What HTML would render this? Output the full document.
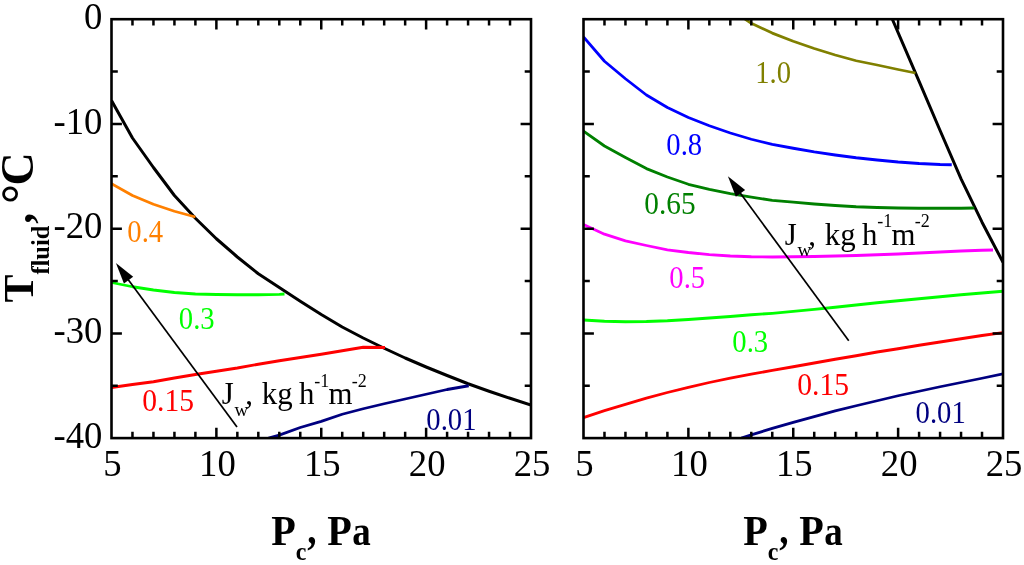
<!DOCTYPE html>
<html><head><meta charset="utf-8"><title>chart</title>
<style>html,body{margin:0;padding:0;background:#fff;}svg{display:block;}text{font-family:"Liberation Serif",serif;}svg{will-change:transform;}</style></head><body>
<svg width="1024" height="565" viewBox="0 0 1024 565">
<rect width="1024" height="565" fill="#fff"/>
<clipPath id="cl"><rect x="111.5" y="19.2" width="419.5" height="418.90000000000003"/></clipPath>
<clipPath id="cr"><rect x="583.5" y="19.2" width="419.5" height="418.90000000000003"/></clipPath>
<g clip-path="url(#cl)">
<polyline points="111.50,100.50 132.47,138.00 153.45,167.50 174.43,195.50 195.40,218.25 216.38,238.75 237.35,257.00 258.32,273.75 279.30,287.50 300.27,301.25 321.25,314.50 342.23,327.00 363.20,338.00 384.18,348.25 405.15,358.00 426.12,367.00 447.10,375.50 468.07,383.75 489.05,391.25 510.02,398.25 531.00,405.00" fill="none" stroke="#000" stroke-width="3.0" stroke-linejoin="round" stroke-linecap="butt"/>
<polyline points="111.50,183.75 132.47,195.50 153.45,204.25 174.43,211.25 195.40,217.00" fill="none" stroke="#ff8000" stroke-width="2.8" stroke-linejoin="round" stroke-linecap="butt"/>
<polyline points="111.50,282.50 132.47,286.75 153.45,290.00 174.43,292.50 195.40,294.00 216.38,294.50 237.35,294.75 258.32,294.75 279.30,294.30 284.50,294.00" fill="none" stroke="#00ff00" stroke-width="2.8" stroke-linejoin="round" stroke-linecap="butt"/>
<polyline points="111.50,387.50 132.47,384.50 153.45,381.75 174.43,378.00 195.40,374.50 216.38,371.25 237.35,368.00 258.32,364.25 279.30,360.75 300.27,357.50 321.25,354.25 342.23,350.75 363.20,347.25 385.00,347.50" fill="none" stroke="#ff0000" stroke-width="2.8" stroke-linejoin="round" stroke-linecap="butt"/>
<polyline points="268.50,438.00 279.30,435.10 300.27,427.50 321.25,421.30 342.23,414.25 363.20,408.75 384.18,403.75 405.15,399.00 426.12,394.25 447.10,389.50 468.75,385.75" fill="none" stroke="#000080" stroke-width="2.8" stroke-linejoin="round" stroke-linecap="butt"/>
</g>
<line x1="237.00" y1="427.00" x2="127.36" y2="278.53" stroke="#000" stroke-width="1.7"/>
<polygon points="115.90,263.00 133.18,276.72 123.93,283.55" fill="#000"/>
<g clip-path="url(#cr)">
<polyline points="892.00,18.50 919.10,81.30 940.08,130.50 961.05,178.90 982.02,222.20 1003.00,262.30" fill="none" stroke="#000" stroke-width="3.0" stroke-linejoin="round" stroke-linecap="butt"/>
<polyline points="745.00,19.00 751.30,23.25 772.27,33.10 793.25,41.25 814.23,48.50 835.20,55.00 856.17,60.75 877.15,65.00 898.12,69.50 915.50,73.00" fill="none" stroke="#808000" stroke-width="2.8" stroke-linejoin="round" stroke-linecap="butt"/>
<polyline points="583.50,37.00 604.48,61.25 625.45,78.75 646.42,95.00 667.40,107.50 688.38,117.50 709.35,125.75 730.33,133.00 751.30,139.25 772.27,144.40 793.25,148.25 814.23,151.90 835.20,155.00 856.17,157.75 877.15,160.00 898.12,162.00 919.10,163.50 940.08,164.50 951.75,164.75" fill="none" stroke="#0000ff" stroke-width="2.8" stroke-linejoin="round" stroke-linecap="butt"/>
<polyline points="583.50,131.25 604.48,146.00 625.45,157.40 646.42,168.60 667.40,177.00 688.38,184.30 709.35,189.40 730.33,193.70 751.30,197.20 772.27,200.30 793.25,202.20 814.23,204.00 835.20,205.50 856.17,206.75 877.15,207.50 898.12,208.00 919.10,208.25 940.08,208.25 961.05,208.25 974.25,208.00" fill="none" stroke="#008000" stroke-width="2.8" stroke-linejoin="round" stroke-linecap="butt"/>
<polyline points="583.50,224.50 604.48,234.20 625.45,240.90 646.42,245.50 667.40,249.80 688.38,252.50 709.35,254.70 730.33,256.00 751.30,256.75 772.27,257.00 793.25,256.75 814.23,256.50 835.20,256.00 856.17,255.50 877.15,254.75 898.12,254.00 919.10,253.00 940.08,252.00 961.05,251.00 982.02,250.25 993.00,250.00" fill="none" stroke="#ff00ff" stroke-width="2.8" stroke-linejoin="round" stroke-linecap="butt"/>
<polyline points="583.50,320.00 604.48,321.25 625.45,321.75 646.42,321.50 667.40,320.75 688.38,319.50 709.35,318.00 730.33,316.50 751.30,314.75 772.27,313.30 793.25,311.40 814.23,309.40 835.20,307.25 856.17,305.00 877.15,302.75 898.12,300.75 919.10,298.75 940.08,296.75 961.05,294.75 982.02,293.00 1003.00,291.25" fill="none" stroke="#00ff00" stroke-width="2.8" stroke-linejoin="round" stroke-linecap="butt"/>
<polyline points="583.50,417.60 604.48,410.60 625.45,404.30 646.42,398.10 667.40,392.50 688.38,387.30 709.35,382.50 730.33,378.10 751.30,374.10 772.27,370.40 793.25,366.75 814.23,363.00 835.20,359.25 856.17,355.75 877.15,352.00 898.12,348.75 919.10,345.25 940.08,342.00 961.05,338.75 982.02,335.50 1003.00,332.60" fill="none" stroke="#ff0000" stroke-width="2.8" stroke-linejoin="round" stroke-linecap="butt"/>
<polyline points="741.25,438.00 751.30,434.90 772.27,428.40 793.25,422.40 814.23,416.60 835.20,410.90 856.17,405.75 877.15,400.75 898.12,395.75 919.10,391.25 940.08,386.75 961.05,382.50 982.02,378.25 1003.00,373.90" fill="none" stroke="#000080" stroke-width="2.8" stroke-linejoin="round" stroke-linecap="butt"/>
</g>
<line x1="848.75" y1="340.75" x2="739.33" y2="191.85" stroke="#000" stroke-width="1.7"/>
<polygon points="727.90,176.30 745.15,190.06 735.88,196.87" fill="#000"/>
<rect x="111.5" y="19.2" width="419.5" height="418.90000000000003" fill="none" stroke="#000" stroke-width="2.6"/>
<path d="M132.47 19.2v6.3M132.47 438.1v-6.3M153.45 19.2v6.3M153.45 438.1v-6.3M174.43 19.2v6.3M174.43 438.1v-6.3M195.40 19.2v6.3M195.40 438.1v-6.3M216.38 19.2v10.4M216.38 438.1v-10.4M237.35 19.2v6.3M237.35 438.1v-6.3M258.32 19.2v6.3M258.32 438.1v-6.3M279.30 19.2v6.3M279.30 438.1v-6.3M300.27 19.2v6.3M300.27 438.1v-6.3M321.25 19.2v10.4M321.25 438.1v-10.4M342.23 19.2v6.3M342.23 438.1v-6.3M363.20 19.2v6.3M363.20 438.1v-6.3M384.18 19.2v6.3M384.18 438.1v-6.3M405.15 19.2v6.3M405.15 438.1v-6.3M426.12 19.2v10.4M426.12 438.1v-10.4M447.10 19.2v6.3M447.10 438.1v-6.3M468.07 19.2v6.3M468.07 438.1v-6.3M489.05 19.2v6.3M489.05 438.1v-6.3M510.02 19.2v6.3M510.02 438.1v-6.3M111.5 71.56h6.3M531.0 71.56h-6.3M111.5 123.92h10.4M531.0 123.92h-10.4M111.5 176.29h6.3M531.0 176.29h-6.3M111.5 228.65h10.4M531.0 228.65h-10.4M111.5 281.01h6.3M531.0 281.01h-6.3M111.5 333.38h10.4M531.0 333.38h-10.4M111.5 385.74h6.3M531.0 385.74h-6.3" stroke="#000" stroke-width="2.5" fill="none"/>
<rect x="583.5" y="19.2" width="419.5" height="418.90000000000003" fill="none" stroke="#000" stroke-width="2.6"/>
<path d="M604.48 19.2v6.3M604.48 438.1v-6.3M625.45 19.2v6.3M625.45 438.1v-6.3M646.42 19.2v6.3M646.42 438.1v-6.3M667.40 19.2v6.3M667.40 438.1v-6.3M688.38 19.2v10.4M688.38 438.1v-10.4M709.35 19.2v6.3M709.35 438.1v-6.3M730.33 19.2v6.3M730.33 438.1v-6.3M751.30 19.2v6.3M751.30 438.1v-6.3M772.27 19.2v6.3M772.27 438.1v-6.3M793.25 19.2v10.4M793.25 438.1v-10.4M814.23 19.2v6.3M814.23 438.1v-6.3M835.20 19.2v6.3M835.20 438.1v-6.3M856.17 19.2v6.3M856.17 438.1v-6.3M877.15 19.2v6.3M877.15 438.1v-6.3M898.12 19.2v10.4M898.12 438.1v-10.4M919.10 19.2v6.3M919.10 438.1v-6.3M940.08 19.2v6.3M940.08 438.1v-6.3M961.05 19.2v6.3M961.05 438.1v-6.3M982.02 19.2v6.3M982.02 438.1v-6.3M583.5 71.56h6.3M1003.0 71.56h-6.3M583.5 123.92h10.4M1003.0 123.92h-10.4M583.5 176.29h6.3M1003.0 176.29h-6.3M583.5 228.65h10.4M1003.0 228.65h-10.4M583.5 281.01h6.3M1003.0 281.01h-6.3M583.5 333.38h10.4M1003.0 333.38h-10.4M583.5 385.74h6.3M1003.0 385.74h-6.3" stroke="#000" stroke-width="2.5" fill="none"/>
<text transform="translate(102.3,28.9) scale(0.965,1)" font-size="38" fill="#000" text-anchor="end">0</text>
<text transform="translate(102.3,133.62) scale(0.965,1)" font-size="38" fill="#000" text-anchor="end">-10</text>
<text transform="translate(102.3,238.35) scale(0.965,1)" font-size="38" fill="#000" text-anchor="end">-20</text>
<text transform="translate(102.3,343.08) scale(0.965,1)" font-size="38" fill="#000" text-anchor="end">-30</text>
<text transform="translate(102.3,447.8) scale(0.965,1)" font-size="38" fill="#000" text-anchor="end">-40</text>
<text transform="translate(112.5,475.8) scale(0.965,1)" font-size="38" fill="#000" text-anchor="middle">5</text>
<text transform="translate(217.38,475.8) scale(0.965,1)" font-size="38" fill="#000" text-anchor="middle">10</text>
<text transform="translate(322.25,475.8) scale(0.965,1)" font-size="38" fill="#000" text-anchor="middle">15</text>
<text transform="translate(427.12,475.8) scale(0.965,1)" font-size="38" fill="#000" text-anchor="middle">20</text>
<text transform="translate(532.0,475.8) scale(0.965,1)" font-size="38" fill="#000" text-anchor="middle">25</text>
<text transform="translate(584.5,475.8) scale(0.965,1)" font-size="38" fill="#000" text-anchor="middle">5</text>
<text transform="translate(689.38,475.8) scale(0.965,1)" font-size="38" fill="#000" text-anchor="middle">10</text>
<text transform="translate(794.25,475.8) scale(0.965,1)" font-size="38" fill="#000" text-anchor="middle">15</text>
<text transform="translate(899.12,475.8) scale(0.965,1)" font-size="38" fill="#000" text-anchor="middle">20</text>
<text transform="translate(1004.0,475.8) scale(0.965,1)" font-size="38" fill="#000" text-anchor="middle">25</text>
<text transform="translate(127.3,242.3) scale(0.925,1)" font-size="31" fill="#ff8000" text-anchor="start">0.4</text>
<text transform="translate(178.8,329.3) scale(0.925,1)" font-size="31" fill="#00ff00" text-anchor="start">0.3</text>
<text transform="translate(142.3,411.0) scale(0.955,1)" font-size="31" fill="#ff0000" text-anchor="start">0.15</text>
<text transform="translate(426.3,430.0) scale(0.925,1)" font-size="31" fill="#000080" text-anchor="start">0.01</text>
<text transform="translate(755.2,83.0) scale(0.925,1)" font-size="31" fill="#808000" text-anchor="start">1.0</text>
<text transform="translate(666.3,155.3) scale(0.925,1)" font-size="31" fill="#0000ff" text-anchor="start">0.8</text>
<text transform="translate(644.3,214.0) scale(0.945,1)" font-size="31" fill="#008000" text-anchor="start">0.65</text>
<text transform="translate(669.3,287.5) scale(0.925,1)" font-size="31" fill="#ff00ff" text-anchor="start">0.5</text>
<text transform="translate(732.3,352.3) scale(0.925,1)" font-size="31" fill="#00ff00" text-anchor="start">0.3</text>
<text transform="translate(797.3,395.0) scale(0.955,1)" font-size="31" fill="#ff0000" text-anchor="start">0.15</text>
<text transform="translate(915.6,423.0) scale(0.925,1)" font-size="31" fill="#000080" text-anchor="start">0.01</text>
<text transform="translate(221.7,403.75) scale(0.95,1)" font-size="32.5" fill="#000" text-anchor="start">J</text>
<text transform="translate(234.4,415.5) scale(0.9999,1)" font-size="19" fill="#000" text-anchor="start">w</text>
<text transform="translate(245.3,403.75) scale(0.95,1)" font-size="32.5" fill="#000" text-anchor="start">,</text>
<text transform="translate(261.7,403.75) scale(0.95,1)" font-size="32.5" fill="#000" text-anchor="start">kg</text>
<text transform="translate(299.1,403.75) scale(0.95,1)" font-size="32.5" fill="#000" text-anchor="start">h</text>
<text transform="translate(314.3,386.5) scale(0.9999,1)" font-size="18" fill="#000" text-anchor="start">-1</text>
<text transform="translate(328.5,403.75) scale(0.95,1)" font-size="32.5" fill="#000" text-anchor="start">m</text>
<text transform="translate(351.8,386.5) scale(0.9999,1)" font-size="18" fill="#000" text-anchor="start">-2</text>
<text transform="translate(784.7,244.5) scale(0.95,1)" font-size="32.5" fill="#000" text-anchor="start">J</text>
<text transform="translate(797.4,256.25) scale(0.9999,1)" font-size="19" fill="#000" text-anchor="start">w</text>
<text transform="translate(808.3,244.5) scale(0.95,1)" font-size="32.5" fill="#000" text-anchor="start">,</text>
<text transform="translate(824.7,244.5) scale(0.95,1)" font-size="32.5" fill="#000" text-anchor="start">kg</text>
<text transform="translate(862.1,244.5) scale(0.95,1)" font-size="32.5" fill="#000" text-anchor="start">h</text>
<text transform="translate(877.3,227.25) scale(0.9999,1)" font-size="18" fill="#000" text-anchor="start">-1</text>
<text transform="translate(891.5,244.5) scale(0.95,1)" font-size="32.5" fill="#000" text-anchor="start">m</text>
<text transform="translate(914.8,227.25) scale(0.9999,1)" font-size="18" fill="#000" text-anchor="start">-2</text>
<text transform="translate(271.2,544.75) scale(0.935,1)" font-size="43" fill="#000" text-anchor="start" font-weight="bold">P</text>
<text transform="translate(295.7,560.3) scale(0.92,1)" font-size="26" fill="#000" text-anchor="start" font-weight="bold">c</text>
<text transform="translate(307.2,544.4) scale(0.845,1)" font-size="44" fill="#000" text-anchor="start" font-weight="bold">,</text>
<text transform="translate(327.2,544.75) scale(0.935,1)" font-size="43" fill="#000" text-anchor="start" font-weight="bold">P</text>
<text transform="translate(352.3,544.75) scale(0.86,1)" font-size="43" fill="#000" text-anchor="start" font-weight="bold">a</text>
<text transform="translate(743.2,544.75) scale(0.935,1)" font-size="43" fill="#000" text-anchor="start" font-weight="bold">P</text>
<text transform="translate(767.7,560.3) scale(0.92,1)" font-size="26" fill="#000" text-anchor="start" font-weight="bold">c</text>
<text transform="translate(779.2,544.4) scale(0.845,1)" font-size="44" fill="#000" text-anchor="start" font-weight="bold">,</text>
<text transform="translate(799.2,544.75) scale(0.935,1)" font-size="43" fill="#000" text-anchor="start" font-weight="bold">P</text>
<text transform="translate(824.3,544.75) scale(0.86,1)" font-size="43" fill="#000" text-anchor="start" font-weight="bold">a</text>
<text transform="translate(33.0,302.6) rotate(-90)" font-size="42" font-weight="bold">T</text>
<text transform="translate(48.6,274.6) rotate(-90)" font-size="24.5" font-weight="bold">fluid</text>
<text transform="translate(32.4,223.7) rotate(-90)" font-size="44" font-weight="bold">,</text>
<text transform="translate(36.0,204.0) rotate(-90)" font-size="50" font-weight="bold">°</text>
<text transform="translate(33.25,185.5) rotate(-90)" font-size="46" font-weight="bold">C</text>
</svg></body></html>
